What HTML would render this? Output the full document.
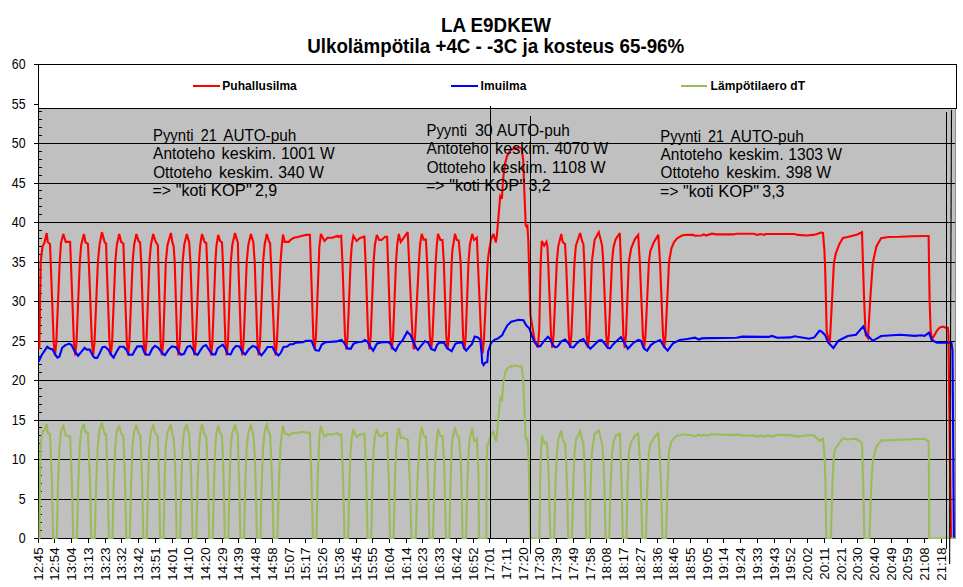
<!DOCTYPE html>
<html><head><meta charset="utf-8"><title>LA E9DKEW</title>
<style>
html,body{margin:0;padding:0;background:#fff;}
body{width:963px;height:587px;overflow:hidden;font-family:"Liberation Sans", sans-serif;}
svg{display:block;}
</style></head><body>
<svg width="963" height="587" viewBox="0 0 963 587">
<rect x="0" y="0" width="963" height="587" fill="#ffffff"/>
<rect x="38" y="64" width="917" height="475" fill="#c0c0c0"/>
<rect x="955" y="108" width="1" height="431" fill="#8c8c8c"/>
<rect x="39" y="499" width="916" height="1" fill="#000"/>
<rect x="39" y="459" width="916" height="1" fill="#000"/>
<rect x="39" y="420" width="916" height="1" fill="#000"/>
<rect x="39" y="380" width="916" height="1" fill="#000"/>
<rect x="39" y="341" width="916" height="1" fill="#000"/>
<rect x="39" y="301" width="916" height="1" fill="#000"/>
<rect x="39" y="262" width="916" height="1" fill="#000"/>
<rect x="39" y="222" width="916" height="1" fill="#000"/>
<rect x="39" y="183" width="916" height="1" fill="#000"/>
<rect x="39" y="143" width="916" height="1" fill="#000"/>
<rect x="39" y="104" width="916" height="1" fill="#000"/>
<rect x="38" y="64" width="1" height="475" fill="#000"/>
<rect x="34" y="538" width="921" height="1" fill="#000"/>
<rect x="39" y="530" width="3" height="1" fill="#000"/>
<rect x="39" y="522" width="3" height="1" fill="#000"/>
<rect x="39" y="514" width="3" height="1" fill="#000"/>
<rect x="39" y="506" width="3" height="1" fill="#000"/>
<rect x="39" y="491" width="3" height="1" fill="#000"/>
<rect x="39" y="483" width="3" height="1" fill="#000"/>
<rect x="39" y="475" width="3" height="1" fill="#000"/>
<rect x="39" y="467" width="3" height="1" fill="#000"/>
<rect x="39" y="451" width="3" height="1" fill="#000"/>
<rect x="39" y="443" width="3" height="1" fill="#000"/>
<rect x="39" y="435" width="3" height="1" fill="#000"/>
<rect x="39" y="427" width="3" height="1" fill="#000"/>
<rect x="39" y="412" width="3" height="1" fill="#000"/>
<rect x="39" y="404" width="3" height="1" fill="#000"/>
<rect x="39" y="396" width="3" height="1" fill="#000"/>
<rect x="39" y="388" width="3" height="1" fill="#000"/>
<rect x="39" y="372" width="3" height="1" fill="#000"/>
<rect x="39" y="364" width="3" height="1" fill="#000"/>
<rect x="39" y="356" width="3" height="1" fill="#000"/>
<rect x="39" y="348" width="3" height="1" fill="#000"/>
<rect x="39" y="333" width="3" height="1" fill="#000"/>
<rect x="39" y="325" width="3" height="1" fill="#000"/>
<rect x="39" y="317" width="3" height="1" fill="#000"/>
<rect x="39" y="309" width="3" height="1" fill="#000"/>
<rect x="39" y="293" width="3" height="1" fill="#000"/>
<rect x="39" y="285" width="3" height="1" fill="#000"/>
<rect x="39" y="277" width="3" height="1" fill="#000"/>
<rect x="39" y="269" width="3" height="1" fill="#000"/>
<rect x="39" y="254" width="3" height="1" fill="#000"/>
<rect x="39" y="246" width="3" height="1" fill="#000"/>
<rect x="39" y="238" width="3" height="1" fill="#000"/>
<rect x="39" y="230" width="3" height="1" fill="#000"/>
<rect x="39" y="214" width="3" height="1" fill="#000"/>
<rect x="39" y="206" width="3" height="1" fill="#000"/>
<rect x="39" y="198" width="3" height="1" fill="#000"/>
<rect x="39" y="190" width="3" height="1" fill="#000"/>
<rect x="39" y="175" width="3" height="1" fill="#000"/>
<rect x="39" y="167" width="3" height="1" fill="#000"/>
<rect x="39" y="159" width="3" height="1" fill="#000"/>
<rect x="39" y="151" width="3" height="1" fill="#000"/>
<rect x="39" y="135" width="3" height="1" fill="#000"/>
<rect x="39" y="127" width="3" height="1" fill="#000"/>
<rect x="39" y="119" width="3" height="1" fill="#000"/>
<rect x="39" y="111" width="3" height="1" fill="#000"/>
<defs><clipPath id="pc"><rect x="38" y="64" width="918" height="475"/></clipPath></defs>
<g clip-path="url(#pc)" fill="none" stroke-linejoin="miter" stroke-miterlimit="3" stroke-linecap="butt" stroke-width="2.1">
<polyline stroke="#ff0000" points="39.3,349.0 40.7,262.0 42.5,246.6 44.4,242.8 46.7,233.0 47.7,241.9 49.1,243.3 50.0,244.2 50.7,262.0 53.7,342.5 55.0,355.5 56.3,342.5 59.7,262.0 61.0,243.0 63.3,234.0 65.7,241.9 70.1,241.9 70.9,262.0 73.9,342.5 75.2,355.5 76.5,342.5 79.8,262.0 81.2,245.0 83.9,234.0 85.5,242.4 87.9,243.8 88.8,262.0 91.9,342.5 93.2,355.5 94.5,342.5 97.9,262.0 99.5,245.0 101.9,232.1 104.7,242.4 106.1,243.5 106.6,262.0 109.5,342.5 110.8,355.5 112.1,342.5 115.3,262.0 116.8,245.0 119.2,234.0 121.2,242.0 123.4,243.5 124.0,262.0 126.8,342.5 128.1,355.5 129.4,342.5 132.6,262.0 134.1,245.0 136.4,234.0 138.7,241.4 140.1,242.4 141.2,262.0 143.8,342.5 145.1,355.5 146.4,342.5 149.4,262.0 150.9,245.0 153.2,234.0 155.5,241.4 157.9,245.2 158.3,262.0 160.6,342.5 161.9,355.5 163.2,342.5 165.8,262.0 167.5,245.0 170.9,233.0 172.3,241.9 173.7,246.6 174.7,262.0 177.2,342.5 178.5,355.5 179.8,342.5 182.6,262.0 184.2,245.0 186.8,234.0 189.2,242.4 190.4,262.0 193.2,342.5 194.5,355.5 195.8,342.5 199.0,262.0 200.2,245.0 202.0,234.0 204.6,242.0 206.3,243.0 207.1,262.0 209.8,342.5 211.1,355.5 212.4,342.5 215.4,262.0 216.4,246.0 218.2,234.9 220.1,241.0 222.0,242.4 222.9,262.0 225.4,342.5 226.7,355.5 228.0,342.5 230.8,262.0 232.3,245.0 235.0,233.0 237.4,241.4 237.9,242.4 238.3,262.0 241.0,342.5 242.3,355.5 243.6,342.5 246.7,262.0 248.3,245.0 250.9,234.0 253.3,242.0 254.7,262.0 257.4,342.5 258.7,355.5 260.0,342.5 263.1,262.0 264.6,245.0 266.8,234.0 269.2,242.0 270.1,243.0 271.0,262.0 274.3,342.5 275.6,355.5 276.9,342.5 280.5,262.0 281.9,244.7 283.0,234.6 284.7,241.9 288.9,241.9 290.3,240.0 294.0,237.7 298.7,236.7 302.4,235.8 306.2,234.9 309.9,234.9 310.8,262.0 313.3,336.5 314.6,349.5 315.9,336.5 318.8,262.0 319.3,247.5 320.9,233.9 324.4,241.0 327.7,237.7 332.3,237.7 337.5,235.8 338.4,237.0 341.2,235.8 342.4,262.0 345.0,336.5 346.3,349.5 347.6,336.5 350.6,262.0 351.8,245.0 353.4,235.8 356.6,241.0 360.4,237.7 363.6,237.0 364.4,235.8 365.6,262.0 368.1,336.5 369.4,349.5 370.7,336.5 373.6,262.0 374.9,245.0 376.8,234.9 379.2,240.0 381.5,240.0 385.2,236.7 387.1,236.7 388.0,262.0 390.5,336.5 391.8,349.5 393.1,336.5 396.0,262.0 397.2,245.0 398.8,233.9 400.7,241.9 407.7,232.1 409.1,262.0 412.5,336.5 413.8,349.5 415.1,336.5 418.9,262.0 420.0,245.0 421.7,233.9 423.6,239.6 425.9,239.6 427.1,262.0 429.9,336.5 431.2,349.5 432.5,336.5 435.7,262.0 436.8,245.0 438.0,233.9 440.4,240.0 442.5,240.0 443.8,262.0 446.3,336.5 447.6,349.5 448.9,336.5 451.7,262.0 452.4,250.0 455.0,233.9 456.8,240.0 458.7,240.5 460.6,262.0 463.1,336.5 464.4,349.5 465.7,336.5 468.5,262.0 469.9,244.7 472.2,233.9 474.1,240.0 476.9,237.7 477.9,262.0 481.3,340.5 482.6,353.5 483.9,340.5 487.7,262.0 488.6,254.0 490.9,240.0 493.3,233.9 495.9,242.4 496.8,236.0 498.5,216.6 500.2,196.2 501.9,198.7 502.3,191.0 503.3,177.4 505.0,163.8 507.0,156.2 510.4,150.2 515.5,147.7 521.5,147.7 523.2,160.4 524.0,182.6 524.9,204.7 525.7,225.1 526.6,226.8 527.4,226.0 528.3,240.0 528.9,262.0 530.4,315.0 534.6,340.0 537.9,347.6 539.2,330.0 540.7,262.0 541.8,241.0 544.2,245.6 546.5,241.9 547.4,246.6 548.2,262.0 551.0,335.0 552.3,348.0 553.6,335.0 556.8,262.0 558.2,246.6 561.3,233.9 562.4,241.0 563.3,242.8 565.0,243.8 566.1,262.0 568.8,335.0 570.1,348.0 571.4,335.0 574.5,262.0 575.9,245.6 580.1,233.0 582.5,242.4 583.4,243.8 584.3,262.0 586.6,335.0 587.9,348.0 589.2,335.0 591.8,262.0 594.6,240.0 598.8,232.1 602.1,245.6 603.3,262.0 606.2,335.0 607.5,348.0 608.8,335.0 612.0,262.0 613.4,247.5 615.7,239.1 619.8,233.0 620.9,262.0 623.4,335.0 624.7,348.0 626.0,335.0 628.8,262.0 631.2,248.4 634.9,239.1 638.2,234.9 639.8,262.0 642.9,335.0 644.2,348.0 645.5,335.0 648.9,262.0 650.3,251.2 653.6,242.8 658.3,234.9 660.0,262.0 663.0,335.0 664.3,348.0 665.6,335.0 669.0,262.0 671.4,248.4 674.2,241.9 677.4,238.1 682.6,235.3 686.3,234.9 692.9,234.9 695.0,235.8 701.6,235.5 703.8,234.4 706.0,235.5 711.8,233.7 716.2,234.4 733.6,234.4 736.5,233.7 754.0,233.7 756.9,234.9 761.2,234.0 764.1,234.9 765.6,234.0 794.7,234.0 797.6,234.9 806.3,235.5 813.5,234.9 817.9,233.7 820.8,232.6 823.0,233.0 824.4,250.0 825.2,270.0 826.7,332.0 829.8,343.0 832.2,296.6 833.9,263.0 835.8,253.6 839.4,244.0 843.0,238.0 847.7,237.0 857.3,234.5 862.0,232.2 864.0,296.6 865.6,334.8 868.0,338.0 870.4,296.6 872.8,263.0 876.4,246.5 881.1,238.1 888.3,237.0 900.0,236.8 912.0,236.2 927.0,236.0 928.6,236.0 929.6,300.0 930.6,330.0 932.0,339.5 934.7,334.7 937.0,330.5 939.4,327.8 942.4,326.6 944.8,327.2 946.0,328.1 947.8,327.8 948.4,333.0 951.0,538.5"/>
<polyline stroke="#0000ff" points="38.6,361.8 41.6,355.2 47.2,346.8 50.0,348.7 52.4,349.2 55.6,355.2 57.5,357.6 59.4,356.6 62.2,347.8 65.0,345.4 69.2,343.6 71.5,345.0 74.3,350.6 78.1,355.7 80.9,352.4 84.6,347.8 86.9,349.6 89.7,349.6 93.0,356.2 94.9,357.9 97.2,357.9 99.6,353.4 102.4,347.3 105.2,346.8 108.4,349.6 110.8,354.3 113.6,357.6 117.3,350.6 119.6,346.8 123.7,346.8 126.5,350.1 128.9,354.8 132.6,354.8 135.0,350.1 137.3,346.4 142.0,346.4 144.3,352.4 146.6,354.8 149.4,354.8 152.2,348.7 155.0,345.9 158.3,347.8 162.1,352.9 164.9,355.2 168.6,349.6 171.9,346.4 176.1,347.3 178.9,352.4 181.2,354.8 184.0,353.8 187.3,346.8 190.1,345.9 192.4,348.7 194.8,353.4 197.6,354.8 200.8,349.6 203.2,346.4 206.0,345.0 209.2,350.2 212.5,354.4 215.3,354.4 217.6,348.4 220.0,346.5 222.8,344.6 224.6,347.4 227.9,354.0 230.7,354.4 233.0,349.3 235.8,346.0 239.6,346.5 242.4,352.1 245.2,354.4 248.9,349.3 252.7,346.0 255.9,347.0 259.2,352.6 261.5,355.4 264.8,351.2 267.6,347.0 272.3,347.0 275.1,352.1 278.4,355.4 280.7,353.0 283.5,347.0 287.2,346.5 290.0,344.2 292.8,344.2 295.6,342.8 303.1,342.3 305.9,340.9 311.5,340.9 313.4,345.6 315.7,350.2 319.0,350.7 321.8,344.6 325.5,342.3 336.7,341.4 341.4,340.0 343.7,342.3 347.5,348.4 350.7,348.8 353.6,343.7 357.3,342.3 362.0,341.8 364.8,340.0 367.6,341.8 370.4,347.0 373.2,350.7 376.9,343.7 380.6,342.4 388.1,342.0 390.4,343.8 393.2,348.5 395.6,350.8 398.4,345.2 400.2,342.9 403.0,339.6 407.2,331.7 410.5,335.0 413.3,341.5 416.1,348.0 418.0,349.9 420.8,346.2 425.0,341.0 428.3,342.9 431.1,349.0 434.8,350.4 437.1,344.8 439.5,342.4 444.2,342.9 447.0,348.0 451.6,351.3 455.4,343.8 459.1,342.4 462.4,342.9 463.9,347.8 466.2,350.6 469.0,347.3 471.9,344.1 474.7,336.6 477.9,337.5 480.3,339.8 481.7,354.4 482.2,362.8 483.6,365.1 485.0,362.8 487.3,361.9 488.2,351.1 491.0,343.1 494.3,339.8 498.1,338.4 502.3,335.2 503.7,331.9 507.4,325.3 511.2,321.7 514.9,320.8 518.7,319.7 523.4,320.2 526.2,325.3 529.4,328.6 531.8,335.6 534.6,342.2 537.4,345.9 540.2,346.4 543.7,341.4 547.9,336.7 550.2,339.0 553.0,345.1 555.4,347.4 557.7,346.5 561.4,341.4 565.2,339.5 568.5,343.2 570.8,347.0 573.6,347.4 576.4,343.7 580.1,340.4 583.4,339.0 586.7,344.6 590.4,348.8 594.2,345.1 598.8,340.4 601.6,340.0 605.4,344.6 607.7,347.9 610.0,348.4 613.3,344.2 620.9,337.1 623.7,341.8 627.9,348.8 633.0,343.2 638.2,340.0 641.0,340.9 643.8,348.4 647.1,350.7 650.8,345.1 654.5,342.3 660.1,340.0 663.9,346.5 667.6,350.7 673.2,343.2 679.8,340.0 687.2,339.0 695.0,337.6 698.7,339.5 701.6,338.4 707.4,338.1 736.5,337.8 742.3,336.6 768.5,336.9 772.1,335.9 777.2,337.8 790.3,337.4 794.7,336.3 809.2,338.8 814.3,337.4 819.4,330.8 821.5,331.5 825.2,335.2 828.1,342.4 833.4,348.0 838.2,340.8 847.7,336.0 856.0,334.8 863.2,326.4 866.8,334.8 872.8,340.8 881.1,336.0 900.0,334.8 915.0,335.9 921.0,335.3 924.5,335.9 929.0,332.6 931.7,340.0 934.1,341.2 937.0,342.7 951.4,342.7 952.5,350.0 953.9,538.5"/>
<polyline stroke="#9bbb59" points="38.6,538.5 39.4,538.5 39.6,528.8 40.1,479.3 40.6,449.3 40.9,442.4 42.4,432.3 42.6,431.2 44.4,430.3 46.6,424.2 46.9,425.5 47.6,432.4 47.9,433.3 49.9,434.0 50.1,436.5 51.9,482.1 53.1,537.0 53.4,538.5 56.6,538.5 56.9,532.9 58.1,481.3 59.6,446.9 60.9,431.6 61.1,429.9 62.1,429.1 63.1,426.3 63.4,425.9 65.6,434.9 65.8,435.4 69.1,436.8 70.1,436.3 71.8,480.5 73.1,533.4 73.3,538.5 76.8,538.5 77.1,532.6 78.1,488.0 79.8,446.3 81.1,432.6 81.3,431.0 83.8,424.0 85.3,431.7 85.6,432.4 86.8,432.1 87.8,432.7 88.8,452.2 90.1,485.0 91.3,538.0 91.6,538.5 94.6,538.5 94.8,537.4 96.1,486.0 97.8,445.0 99.3,431.2 99.6,429.6 101.8,422.4 104.6,433.6 104.8,434.2 105.1,434.4 105.3,434.5 106.1,434.4 107.8,488.7 108.8,535.3 109.1,538.5 112.3,538.5 112.6,532.7 113.6,487.0 115.3,445.6 116.8,431.8 119.1,425.3 119.3,425.9 121.1,433.3 121.3,433.8 123.3,435.2 125.1,483.5 126.1,531.2 126.3,538.5 129.8,538.5 131.1,484.2 132.6,445.7 134.1,431.6 136.3,424.8 137.3,429.2 138.6,433.2 138.8,433.6 140.1,434.5 141.1,452.3 142.1,481.3 143.3,538.5 146.8,538.5 148.1,481.0 149.3,447.1 150.8,432.4 152.3,428.0 153.1,425.2 153.3,425.4 155.1,432.7 155.6,433.8 157.8,436.1 159.1,479.6 160.1,535.8 160.3,538.5 163.3,538.5 163.6,537.9 164.6,482.7 165.8,446.2 167.3,433.5 167.6,432.0 170.8,424.3 172.3,434.1 173.6,438.0 174.6,452.0 175.6,482.4 176.6,536.5 176.8,538.5 180.1,538.5 180.3,532.0 181.3,481.6 182.6,446.2 184.1,431.0 184.3,429.8 186.6,425.1 186.8,424.9 187.3,427.6 189.1,434.3 190.3,453.5 191.3,480.1 192.6,537.2 192.8,538.5 196.1,538.5 196.3,536.4 197.6,481.2 199.1,446.7 200.1,434.2 200.3,432.3 201.8,425.2 202.1,424.9 204.6,434.8 205.8,436.2 206.1,436.2 206.3,437.1 208.1,482.1 209.1,530.9 209.3,538.5 212.6,538.5 212.8,537.4 214.1,480.8 215.3,447.6 216.3,433.6 216.6,432.3 217.6,428.7 218.1,426.0 218.3,426.1 220.1,433.1 221.8,435.5 222.1,438.0 223.1,461.9 223.8,486.3 224.8,538.5 228.3,538.5 229.6,480.7 230.8,445.9 232.3,432.5 233.1,430.8 234.8,425.0 235.1,425.0 235.8,428.5 237.3,433.5 237.8,434.5 238.3,455.6 239.3,486.3 240.3,535.2 240.6,538.5 244.1,538.5 245.3,481.7 246.6,450.7 246.8,446.8 248.3,433.2 250.8,425.1 251.1,425.8 252.8,433.0 253.1,433.7 253.3,435.0 254.6,452.5 255.6,480.1 256.9,538.5 260.4,538.5 260.6,533.2 261.6,485.6 263.1,447.1 264.6,432.0 266.6,425.0 266.9,424.5 267.6,428.2 269.1,433.2 269.4,433.7 270.1,434.5 272.1,480.7 273.6,538.5 277.4,538.5 278.9,482.1 280.6,446.2 281.9,433.3 282.9,426.1 283.1,425.7 284.6,433.1 284.9,433.6 287.1,433.9 288.9,435.3 289.9,434.8 290.4,434.3 292.9,432.7 294.1,432.6 295.6,433.1 303.1,431.8 305.9,432.6 309.9,432.5 311.6,482.8 312.9,538.5 316.1,538.5 316.4,537.1 317.6,481.3 319.4,435.6 320.9,426.2 321.1,426.7 321.9,429.8 324.4,436.4 324.6,436.4 325.6,436.0 327.6,434.2 332.4,434.4 337.4,433.1 337.6,433.3 338.4,434.5 341.1,434.3 341.4,437.6 343.1,478.6 344.4,534.1 344.6,538.5 348.1,538.5 349.4,483.4 350.6,451.7 351.9,436.4 353.4,430.4 356.6,436.9 360.4,434.3 361.9,434.1 363.6,434.7 364.4,434.1 365.6,460.0 366.4,481.5 367.4,530.4 367.6,538.5 371.1,538.5 371.4,531.6 372.4,483.7 373.6,450.6 374.9,436.6 376.6,430.2 376.9,429.7 379.1,435.4 379.4,435.7 380.6,436.1 381.4,436.1 381.6,436.1 385.1,433.1 387.1,433.1 388.9,482.8 389.9,532.5 390.1,538.5 393.4,538.5 393.6,537.3 394.9,480.4 395.9,454.1 396.1,449.3 397.1,437.1 397.4,435.2 398.6,428.8 398.9,428.0 400.6,437.6 400.9,438.1 402.9,437.6 403.1,437.6 407.1,439.6 407.4,439.2 407.6,438.6 407.9,441.5 409.9,482.6 411.4,534.9 411.6,538.5 415.6,538.5 415.9,535.2 417.4,481.7 419.1,449.0 419.9,438.4 420.1,435.7 421.6,427.8 421.9,428.0 423.6,435.4 424.9,436.9 425.1,437.0 425.9,436.6 427.1,458.3 428.1,484.7 429.4,538.1 429.6,538.5 432.9,538.5 433.1,533.3 434.4,482.0 435.6,454.4 436.9,437.6 437.9,429.7 438.1,428.9 439.6,434.1 440.4,435.9 440.6,436.0 442.4,435.8 442.6,437.5 443.9,459.1 444.6,480.8 445.9,538.5 449.1,538.5 449.4,535.6 450.4,487.9 451.6,451.9 452.4,439.5 452.6,437.9 454.9,428.4 455.1,428.3 456.9,435.3 458.6,436.4 458.9,438.2 460.6,457.9 461.4,480.2 462.4,530.0 462.6,538.5 465.9,538.5 466.1,536.6 467.4,481.8 468.6,451.5 469.9,437.5 471.9,429.9 472.1,429.3 472.4,430.0 474.1,440.3 474.6,441.2 474.9,441.2 476.9,439.0 478.6,478.5 478.9,538.5 486.4,538.5 486.6,461.1 487.4,446.4 487.6,444.3 487.9,443.9 488.1,444.6 488.4,444.1 488.6,442.5 490.9,435.3 493.1,431.9 493.4,431.8 495.9,441.5 496.9,435.1 500.1,399.0 500.4,398.2 501.9,401.6 502.4,393.7 503.4,382.8 504.9,373.7 505.1,372.5 506.9,369.0 507.1,368.7 507.4,368.7 510.4,366.3 511.1,366.6 515.4,365.6 518.9,366.5 521.4,366.2 521.6,366.9 523.1,378.0 525.6,436.8 525.9,439.2 526.1,439.2 526.6,439.6 527.4,438.1 528.1,448.1 528.4,452.8 529.1,479.3 530.1,534.1 530.4,538.5 539.4,538.5 540.1,481.3 540.6,459.2 540.9,452.2 541.9,435.6 544.1,443.0 544.4,443.2 546.4,442.2 546.6,442.8 547.4,447.5 548.9,479.6 550.1,531.2 550.4,538.5 554.1,538.5 555.6,480.8 556.9,453.1 558.1,440.3 558.4,438.9 561.1,431.4 561.4,431.3 562.4,438.3 563.4,440.9 564.9,442.5 565.1,444.4 566.1,460.0 567.1,487.4 568.1,532.2 568.4,538.5 571.9,538.5 573.4,480.5 574.6,453.2 575.9,440.3 576.1,439.4 580.1,431.1 582.6,441.7 583.4,443.2 584.4,461.5 585.1,484.6 586.1,537.2 586.4,538.5 589.4,538.5 589.6,537.8 590.6,487.4 591.9,452.7 594.6,433.8 598.6,430.4 598.9,430.4 601.6,442.1 602.1,443.5 603.4,459.7 604.4,484.3 605.6,537.1 605.9,538.5 609.1,538.5 609.4,534.0 610.6,485.6 611.9,457.9 612.1,453.7 613.4,442.4 615.6,435.9 615.9,435.6 619.6,433.5 619.9,434.7 621.6,482.7 622.6,530.7 622.9,538.5 626.4,538.5 626.6,532.0 627.6,483.5 628.9,452.5 631.1,442.2 631.4,441.5 633.1,439.0 634.9,435.7 638.1,433.5 638.4,435.9 639.9,461.2 640.9,485.7 642.1,532.5 642.4,538.5 645.9,538.5 647.4,483.1 648.9,453.5 650.1,445.1 650.4,443.8 650.9,443.2 653.6,438.3 658.1,432.9 658.4,433.5 660.1,462.9 660.9,479.8 662.4,536.1 662.6,538.5 665.9,538.5 666.1,537.3 667.4,487.6 668.9,454.7 669.1,451.2 671.4,441.5 671.6,441.1 673.1,439.6 674.1,437.9 677.4,435.5 679.9,435.3 682.6,434.2 692.9,435.4 694.9,436.6 695.1,436.6 698.6,434.7 701.6,435.6 703.9,434.6 705.9,435.7 706.1,435.8 711.9,434.2 733.6,435.1 736.6,434.4 742.4,435.6 754.1,435.5 756.9,436.6 761.1,435.7 764.1,436.6 765.6,435.6 768.6,435.6 772.1,436.6 777.1,434.7 790.4,435.1 797.6,436.6 809.4,435.0 814.4,435.8 819.4,440.8 820.9,439.8 821.6,439.6 822.9,438.6 823.1,439.6 824.4,453.5 825.1,470.9 825.4,479.1 826.1,527.1 826.4,538.5 830.9,538.5 832.6,480.0 833.9,455.2 834.1,453.6 835.9,447.6 838.1,445.0 839.4,442.4 842.9,438.3 843.1,438.2 847.6,439.5 855.9,438.6 856.1,438.6 861.9,442.8 862.1,446.2 863.1,479.6 864.4,537.8 864.6,538.5 869.4,538.5 871.4,482.4 872.9,460.5 876.4,446.5 881.1,440.6 924.4,438.7 924.6,438.7 928.6,441.6 928.9,457.8 929.1,538.5 954.9,538.5"/>
</g>
<rect x="38.5" y="64.5" width="918" height="44" fill="#ffffff" stroke="#000" stroke-width="1"/>
<rect x="193" y="85" width="27" height="2" fill="#ff0000"/>
<rect x="451" y="85" width="27" height="2" fill="#0000ff"/>
<rect x="681" y="85" width="26" height="2" fill="#9bbb59"/>
<g font-family='"Liberation Sans", sans-serif' font-weight="bold" font-size="12" fill="#000">
<text x="222.2" y="90" textLength="74.6" lengthAdjust="spacing">Puhallusilma</text>
<text x="480.6" y="90" textLength="45.8" lengthAdjust="spacing">Imuilma</text>
<text x="710.6" y="90" textLength="94.4" lengthAdjust="spacing">Lämpötilaero dT</text>
</g>
<rect x="34" y="538" width="4" height="1" fill="#000"/>
<rect x="34" y="499" width="4" height="1" fill="#000"/>
<rect x="34" y="459" width="4" height="1" fill="#000"/>
<rect x="34" y="420" width="4" height="1" fill="#000"/>
<rect x="34" y="380" width="4" height="1" fill="#000"/>
<rect x="34" y="341" width="4" height="1" fill="#000"/>
<rect x="34" y="301" width="4" height="1" fill="#000"/>
<rect x="34" y="262" width="4" height="1" fill="#000"/>
<rect x="34" y="222" width="4" height="1" fill="#000"/>
<rect x="34" y="183" width="4" height="1" fill="#000"/>
<rect x="34" y="143" width="4" height="1" fill="#000"/>
<rect x="34" y="104" width="4" height="1" fill="#000"/>
<rect x="34" y="64" width="4" height="1" fill="#000"/>
<rect x="38" y="539" width="1" height="4" fill="#000"/>
<rect x="54" y="539" width="1" height="4" fill="#000"/>
<rect x="71" y="539" width="1" height="4" fill="#000"/>
<rect x="88" y="539" width="1" height="4" fill="#000"/>
<rect x="105" y="539" width="1" height="4" fill="#000"/>
<rect x="121" y="539" width="1" height="4" fill="#000"/>
<rect x="138" y="539" width="1" height="4" fill="#000"/>
<rect x="155" y="539" width="1" height="4" fill="#000"/>
<rect x="172" y="539" width="1" height="4" fill="#000"/>
<rect x="188" y="539" width="1" height="4" fill="#000"/>
<rect x="205" y="539" width="1" height="4" fill="#000"/>
<rect x="222" y="539" width="1" height="4" fill="#000"/>
<rect x="238" y="539" width="1" height="4" fill="#000"/>
<rect x="255" y="539" width="1" height="4" fill="#000"/>
<rect x="272" y="539" width="1" height="4" fill="#000"/>
<rect x="289" y="539" width="1" height="4" fill="#000"/>
<rect x="305" y="539" width="1" height="4" fill="#000"/>
<rect x="322" y="539" width="1" height="4" fill="#000"/>
<rect x="339" y="539" width="1" height="4" fill="#000"/>
<rect x="356" y="539" width="1" height="4" fill="#000"/>
<rect x="372" y="539" width="1" height="4" fill="#000"/>
<rect x="389" y="539" width="1" height="4" fill="#000"/>
<rect x="406" y="539" width="1" height="4" fill="#000"/>
<rect x="422" y="539" width="1" height="4" fill="#000"/>
<rect x="439" y="539" width="1" height="4" fill="#000"/>
<rect x="456" y="539" width="1" height="4" fill="#000"/>
<rect x="473" y="539" width="1" height="4" fill="#000"/>
<rect x="489" y="539" width="1" height="4" fill="#000"/>
<rect x="506" y="539" width="1" height="4" fill="#000"/>
<rect x="523" y="539" width="1" height="4" fill="#000"/>
<rect x="539" y="539" width="1" height="4" fill="#000"/>
<rect x="556" y="539" width="1" height="4" fill="#000"/>
<rect x="573" y="539" width="1" height="4" fill="#000"/>
<rect x="590" y="539" width="1" height="4" fill="#000"/>
<rect x="606" y="539" width="1" height="4" fill="#000"/>
<rect x="623" y="539" width="1" height="4" fill="#000"/>
<rect x="640" y="539" width="1" height="4" fill="#000"/>
<rect x="657" y="539" width="1" height="4" fill="#000"/>
<rect x="673" y="539" width="1" height="4" fill="#000"/>
<rect x="690" y="539" width="1" height="4" fill="#000"/>
<rect x="707" y="539" width="1" height="4" fill="#000"/>
<rect x="723" y="539" width="1" height="4" fill="#000"/>
<rect x="740" y="539" width="1" height="4" fill="#000"/>
<rect x="757" y="539" width="1" height="4" fill="#000"/>
<rect x="774" y="539" width="1" height="4" fill="#000"/>
<rect x="790" y="539" width="1" height="4" fill="#000"/>
<rect x="807" y="539" width="1" height="4" fill="#000"/>
<rect x="824" y="539" width="1" height="4" fill="#000"/>
<rect x="841" y="539" width="1" height="4" fill="#000"/>
<rect x="857" y="539" width="1" height="4" fill="#000"/>
<rect x="874" y="539" width="1" height="4" fill="#000"/>
<rect x="891" y="539" width="1" height="4" fill="#000"/>
<rect x="907" y="539" width="1" height="4" fill="#000"/>
<rect x="924" y="539" width="1" height="4" fill="#000"/>
<rect x="941" y="539" width="1" height="4" fill="#000"/>
<g stroke="#000" fill="none">
<rect x="490" y="106" width="1" height="433" fill="#000" stroke="none"/>
<rect x="530" y="116" width="1" height="438" fill="#000" stroke="none"/>
<rect x="946" y="112" width="1" height="437" fill="#000" stroke="none"/>
<line x1="951.5" y1="110" x2="949.6" y2="564" stroke-width="1.1"/>
</g>
<g font-family='"Liberation Sans", sans-serif' font-size="13.33" fill="#000" text-anchor="end">
<text transform="matrix(0.930 0 0 1.080 1.79 -43.45)" x="25.6" y="543.10">0</text>
<text transform="matrix(0.930 0 0 1.080 1.79 -40.29)" x="25.6" y="503.60">5</text>
<text transform="matrix(0.930 0 0 1.080 1.79 -37.13)" x="25.6" y="464.10">10</text>
<text transform="matrix(0.930 0 0 1.080 1.79 -33.97)" x="25.6" y="424.60">15</text>
<text transform="matrix(0.930 0 0 1.080 1.79 -30.81)" x="25.6" y="385.10">20</text>
<text transform="matrix(0.930 0 0 1.080 1.79 -27.65)" x="25.6" y="345.60">25</text>
<text transform="matrix(0.930 0 0 1.080 1.79 -24.49)" x="25.6" y="306.10">30</text>
<text transform="matrix(0.930 0 0 1.080 1.79 -21.33)" x="25.6" y="266.60">35</text>
<text transform="matrix(0.930 0 0 1.080 1.79 -18.17)" x="25.6" y="227.10">40</text>
<text transform="matrix(0.930 0 0 1.080 1.79 -15.01)" x="25.6" y="187.60">45</text>
<text transform="matrix(0.930 0 0 1.080 1.79 -11.85)" x="25.6" y="148.10">50</text>
<text transform="matrix(0.930 0 0 1.080 1.79 -8.69)" x="25.6" y="108.60">55</text>
<text transform="matrix(0.930 0 0 1.080 1.79 -5.53)" x="25.6" y="69.10">60</text>
</g>
<g font-family='"Liberation Sans", sans-serif' font-size="13.33" fill="#000" text-anchor="end">
<text transform="translate(43.05,547.4) rotate(-90)" x="0" y="0">12:45</text>
<text transform="translate(59.05,547.4) rotate(-90)" x="0" y="0">12:54</text>
<text transform="translate(76.05,547.4) rotate(-90)" x="0" y="0">13:04</text>
<text transform="translate(93.05,547.4) rotate(-90)" x="0" y="0">13:13</text>
<text transform="translate(110.05,547.4) rotate(-90)" x="0" y="0">13:23</text>
<text transform="translate(126.05,547.4) rotate(-90)" x="0" y="0">13:32</text>
<text transform="translate(143.05,547.4) rotate(-90)" x="0" y="0">13:42</text>
<text transform="translate(160.05,547.4) rotate(-90)" x="0" y="0">13:51</text>
<text transform="translate(177.05,547.4) rotate(-90)" x="0" y="0">14:01</text>
<text transform="translate(193.05,547.4) rotate(-90)" x="0" y="0">14:10</text>
<text transform="translate(210.05,547.4) rotate(-90)" x="0" y="0">14:20</text>
<text transform="translate(227.05,547.4) rotate(-90)" x="0" y="0">14:29</text>
<text transform="translate(243.05,547.4) rotate(-90)" x="0" y="0">14:39</text>
<text transform="translate(260.05,547.4) rotate(-90)" x="0" y="0">14:48</text>
<text transform="translate(277.05,547.4) rotate(-90)" x="0" y="0">14:58</text>
<text transform="translate(294.05,547.4) rotate(-90)" x="0" y="0">15:07</text>
<text transform="translate(310.05,547.4) rotate(-90)" x="0" y="0">15:17</text>
<text transform="translate(327.05,547.4) rotate(-90)" x="0" y="0">15:26</text>
<text transform="translate(344.05,547.4) rotate(-90)" x="0" y="0">15:36</text>
<text transform="translate(361.05,547.4) rotate(-90)" x="0" y="0">15:45</text>
<text transform="translate(377.05,547.4) rotate(-90)" x="0" y="0">15:55</text>
<text transform="translate(394.05,547.4) rotate(-90)" x="0" y="0">16:04</text>
<text transform="translate(411.05,547.4) rotate(-90)" x="0" y="0">16:14</text>
<text transform="translate(427.05,547.4) rotate(-90)" x="0" y="0">16:23</text>
<text transform="translate(444.05,547.4) rotate(-90)" x="0" y="0">16:33</text>
<text transform="translate(461.05,547.4) rotate(-90)" x="0" y="0">16:42</text>
<text transform="translate(478.05,547.4) rotate(-90)" x="0" y="0">16:52</text>
<text transform="translate(494.05,547.4) rotate(-90)" x="0" y="0">17:01</text>
<text transform="translate(511.05,547.4) rotate(-90)" x="0" y="0">17:11</text>
<text transform="translate(528.05,547.4) rotate(-90)" x="0" y="0">17:20</text>
<text transform="translate(544.05,547.4) rotate(-90)" x="0" y="0">17:30</text>
<text transform="translate(561.05,547.4) rotate(-90)" x="0" y="0">17:39</text>
<text transform="translate(578.05,547.4) rotate(-90)" x="0" y="0">17:49</text>
<text transform="translate(595.05,547.4) rotate(-90)" x="0" y="0">17:58</text>
<text transform="translate(611.05,547.4) rotate(-90)" x="0" y="0">18:08</text>
<text transform="translate(628.05,547.4) rotate(-90)" x="0" y="0">18:17</text>
<text transform="translate(645.05,547.4) rotate(-90)" x="0" y="0">18:27</text>
<text transform="translate(662.05,547.4) rotate(-90)" x="0" y="0">18:36</text>
<text transform="translate(678.05,547.4) rotate(-90)" x="0" y="0">18:46</text>
<text transform="translate(695.05,547.4) rotate(-90)" x="0" y="0">18:55</text>
<text transform="translate(712.05,547.4) rotate(-90)" x="0" y="0">19:05</text>
<text transform="translate(728.05,547.4) rotate(-90)" x="0" y="0">19:14</text>
<text transform="translate(745.05,547.4) rotate(-90)" x="0" y="0">19:24</text>
<text transform="translate(762.05,547.4) rotate(-90)" x="0" y="0">19:33</text>
<text transform="translate(779.05,547.4) rotate(-90)" x="0" y="0">19:43</text>
<text transform="translate(795.05,547.4) rotate(-90)" x="0" y="0">19:52</text>
<text transform="translate(812.05,547.4) rotate(-90)" x="0" y="0">20:02</text>
<text transform="translate(829.05,547.4) rotate(-90)" x="0" y="0">20:11</text>
<text transform="translate(846.05,547.4) rotate(-90)" x="0" y="0">20:21</text>
<text transform="translate(862.05,547.4) rotate(-90)" x="0" y="0">20:30</text>
<text transform="translate(879.05,547.4) rotate(-90)" x="0" y="0">20:40</text>
<text transform="translate(896.05,547.4) rotate(-90)" x="0" y="0">20:49</text>
<text transform="translate(912.05,547.4) rotate(-90)" x="0" y="0">20:59</text>
<text transform="translate(929.05,547.4) rotate(-90)" x="0" y="0">21:08</text>
<text transform="translate(946.05,547.4) rotate(-90)" x="0" y="0">21:18</text>
</g>
<g font-family='"Liberation Sans", sans-serif' font-weight="bold" font-size="18.7" fill="#000" text-anchor="middle">
<text transform="matrix(1 0 0 1.080 0 -2.53)" x="496.0" y="31.6" textLength="110.0" lengthAdjust="spacingAndGlyphs">LA E9DKEW</text>
<text transform="matrix(1 0 0 1.080 0 -4.21)" x="495.7" y="52.6" textLength="377.0" lengthAdjust="spacingAndGlyphs">Ulkolämpötila +4C - -3C ja kosteus 65-96%</text>
</g>
<g font-family='"Liberation Sans", sans-serif' font-size="15.3" fill="#000">
<g transform="matrix(1 0 0 1.100 0 -14.10)"><text x="152.98" y="141.00" textLength="40.63" lengthAdjust="spacingAndGlyphs">Pyynti</text><text x="200.68" y="141.00" textLength="16.00" lengthAdjust="spacingAndGlyphs">21</text><text x="223.17" y="141.00" textLength="73.22" lengthAdjust="spacingAndGlyphs">AUTO-puh</text></g>
<g transform="matrix(1 0 0 1.100 0 -15.88)"><text x="153.07" y="158.80" textLength="61.98" lengthAdjust="spacingAndGlyphs">Antoteho</text><text x="221.61" y="158.80" textLength="54.66" lengthAdjust="spacingAndGlyphs">keskim.</text><text x="280.91" y="158.80" textLength="53.78" lengthAdjust="spacingAndGlyphs">1001 W</text></g>
<g transform="matrix(1 0 0 1.100 0 -17.76)"><text x="153.17" y="177.60" textLength="58.77" lengthAdjust="spacingAndGlyphs">Ottoteho</text><text x="218.92" y="177.60" textLength="54.45" lengthAdjust="spacingAndGlyphs">keskim.</text><text x="278.30" y="177.60" textLength="45.55" lengthAdjust="spacingAndGlyphs">340 W</text></g>
<g transform="matrix(1 0 0 1.100 0 -19.60)"><text x="152.52" y="196.00" textLength="18.55" lengthAdjust="spacingAndGlyphs">=&gt;</text><text x="175.72" y="196.00" textLength="30.56" lengthAdjust="spacingAndGlyphs">&quot;koti</text><text x="210.84" y="196.00" textLength="40.97" lengthAdjust="spacingAndGlyphs">KOP&quot;</text><text x="254.90" y="196.00" textLength="22.23" lengthAdjust="spacingAndGlyphs">2,9</text></g>
<g transform="matrix(1 0 0 1.100 0 -13.60)"><text x="426.48" y="136.00" textLength="40.63" lengthAdjust="spacingAndGlyphs">Pyynti</text><text x="474.90" y="136.00" textLength="17.87" lengthAdjust="spacingAndGlyphs">30</text><text x="496.67" y="136.00" textLength="73.22" lengthAdjust="spacingAndGlyphs">AUTO-puh</text></g>
<g transform="matrix(1 0 0 1.100 0 -15.38)"><text x="426.57" y="153.80" textLength="61.98" lengthAdjust="spacingAndGlyphs">Antoteho</text><text x="495.11" y="153.80" textLength="54.66" lengthAdjust="spacingAndGlyphs">keskim.</text><text x="554.42" y="153.80" textLength="53.78" lengthAdjust="spacingAndGlyphs">4070 W</text></g>
<g transform="matrix(1 0 0 1.100 0 -17.26)"><text x="426.67" y="172.60" textLength="58.77" lengthAdjust="spacingAndGlyphs">Ottoteho</text><text x="492.42" y="172.60" textLength="54.45" lengthAdjust="spacingAndGlyphs">keskim.</text><text x="551.80" y="172.60" textLength="53.78" lengthAdjust="spacingAndGlyphs">1108 W</text></g>
<g transform="matrix(1 0 0 1.100 0 -19.10)"><text x="426.02" y="191.00" textLength="18.55" lengthAdjust="spacingAndGlyphs">=&gt;</text><text x="449.22" y="191.00" textLength="30.56" lengthAdjust="spacingAndGlyphs">&quot;koti</text><text x="484.34" y="191.00" textLength="40.97" lengthAdjust="spacingAndGlyphs">KOP&quot;</text><text x="528.40" y="191.00" textLength="22.23" lengthAdjust="spacingAndGlyphs">3,2</text></g>
<g transform="matrix(1 0 0 1.100 0 -14.19)"><text x="660.38" y="141.90" textLength="40.63" lengthAdjust="spacingAndGlyphs">Pyynti</text><text x="708.08" y="141.90" textLength="16.00" lengthAdjust="spacingAndGlyphs">21</text><text x="730.57" y="141.90" textLength="73.22" lengthAdjust="spacingAndGlyphs">AUTO-puh</text></g>
<g transform="matrix(1 0 0 1.100 0 -15.97)"><text x="660.47" y="159.70" textLength="61.98" lengthAdjust="spacingAndGlyphs">Antoteho</text><text x="729.01" y="159.70" textLength="54.66" lengthAdjust="spacingAndGlyphs">keskim.</text><text x="788.31" y="159.70" textLength="53.78" lengthAdjust="spacingAndGlyphs">1303 W</text></g>
<g transform="matrix(1 0 0 1.100 0 -17.85)"><text x="660.57" y="178.50" textLength="58.77" lengthAdjust="spacingAndGlyphs">Ottoteho</text><text x="726.32" y="178.50" textLength="54.45" lengthAdjust="spacingAndGlyphs">keskim.</text><text x="785.70" y="178.50" textLength="45.55" lengthAdjust="spacingAndGlyphs">398 W</text></g>
<g transform="matrix(1 0 0 1.100 0 -19.69)"><text x="659.92" y="196.90" textLength="18.55" lengthAdjust="spacingAndGlyphs">=&gt;</text><text x="683.12" y="196.90" textLength="30.56" lengthAdjust="spacingAndGlyphs">&quot;koti</text><text x="718.24" y="196.90" textLength="40.97" lengthAdjust="spacingAndGlyphs">KOP&quot;</text><text x="762.30" y="196.90" textLength="22.23" lengthAdjust="spacingAndGlyphs">3,3</text></g>
</g>
</svg>
</body></html>
